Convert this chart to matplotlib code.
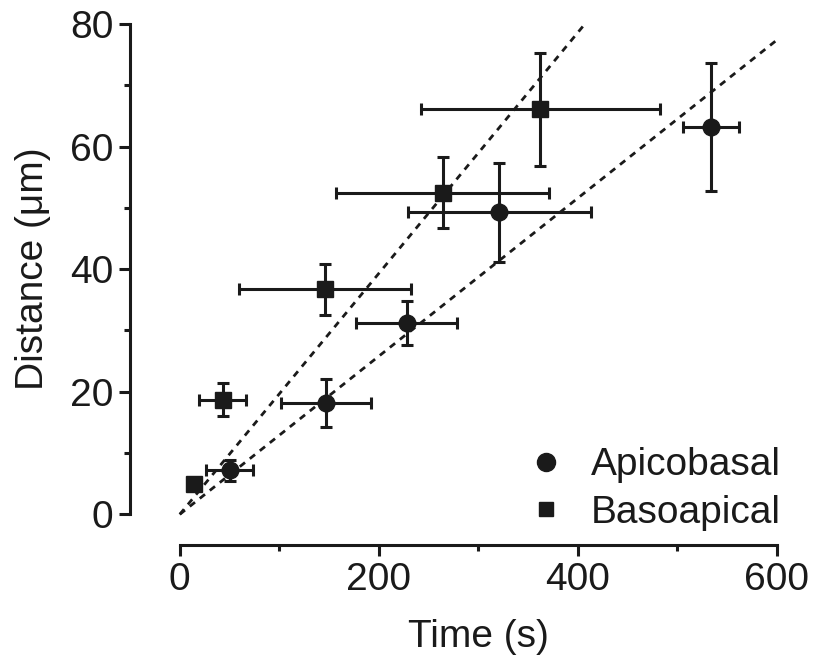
import matplotlib.pyplot as plt
from matplotlib.lines import Line2D

plt.rcParams['font.family'] = ['Liberation Sans', 'DejaVu Sans']

# Apicobasal (circles)
apico_t = [50, 147, 228, 321, 534]
apico_t_err = [24, 45, 51, 92, 28]
apico_d = [7.2, 18.1, 31.2, 49.3, 63.2]
apico_d_err = [1.7, 3.9, 3.6, 8.1, 10.4]

# Basoapical (squares)
baso_t = [14, 43, 146, 264, 362]
baso_t_err = [0, 24, 86, 107, 120]
baso_d = [5.0, 18.7, 36.7, 52.5, 66.1]
baso_d_err = [0, 2.7, 4.2, 5.8, 9.2]

# linear fits through origin
apico_fit_t = [0, 600]
apico_fit_d = [0, 77.4]
baso_fit_t = [0, 407]
baso_fit_d = [0, 80]

ink = '#1a1a1a'
fs = 28

fig = plt.figure(figsize=(8.13, 6.66), dpi=100)
ax = fig.add_axes([0.1599, 0.1817, 0.7958, 0.7823])

ax.plot(apico_fit_t, apico_fit_d, ls=(0, (2.4, 2.2)), color=ink, lw=2.0, zorder=1)
ax.plot(baso_fit_t, baso_fit_d, ls=(0, (2.4, 2.2)), color=ink, lw=2.0, zorder=1)

ax.errorbar(apico_t, apico_d, xerr=apico_t_err, yerr=apico_d_err, fmt='o', ms=12,
            color=ink, ecolor=ink, elinewidth=2.2, capsize=4.5, capthick=2.2, zorder=3)
ax.errorbar(baso_t, baso_d, xerr=baso_t_err, yerr=baso_d_err, fmt='s', ms=11,
            color=ink, ecolor=ink, elinewidth=2.2, capsize=4.5, capthick=2.2, zorder=3)

ax.set_xlim(-50, 600)
ax.set_ylim(-5, 80)
ax.set_xticks([0, 200, 400, 600])
ax.set_xticks([100, 300, 500], minor=True)
ax.set_yticks([0, 20, 40, 60, 80])
ax.set_yticks([10, 30, 50, 70], minor=True)

for s in ['top', 'right']:
    ax.spines[s].set_visible(False)
ax.spines['left'].set_bounds(0, 80)
ax.spines['bottom'].set_bounds(0, 600)
for s in ['left', 'bottom']:
    ax.spines[s].set_linewidth(2.2)
    ax.spines[s].set_color(ink)

ax.tick_params(which='major', length=8, width=2.2, color=ink, labelsize=fs,
               labelcolor=ink, pad=4)
ax.tick_params(which='minor', length=4.5, width=2.2, color=ink)

# labels centred on the bounded spines
ax.set_xlabel('Time (s)', fontsize=fs, color=ink)
ax.set_ylabel('Distance (\u03bcm)', fontsize=fs, color=ink)
ax.xaxis.set_label_coords(350 / 650, -0.142)
ax.yaxis.set_label_coords(-0.122, 45 / 85)

handles = [Line2D([], [], marker='o', ls='none', color=ink, ms=13),
           Line2D([], [], marker='s', ls='none', color=ink, ms=10)]
ax.legend(handles, ['Apicobasal', 'Basoapical'], loc='lower right',
          bbox_to_anchor=(1.06, -0.04), frameon=False, fontsize=fs,
          handletextpad=0.65, labelspacing=0.3, handlelength=1.0,
          labelcolor=ink)

fig.savefig('out.png', dpi=100)
